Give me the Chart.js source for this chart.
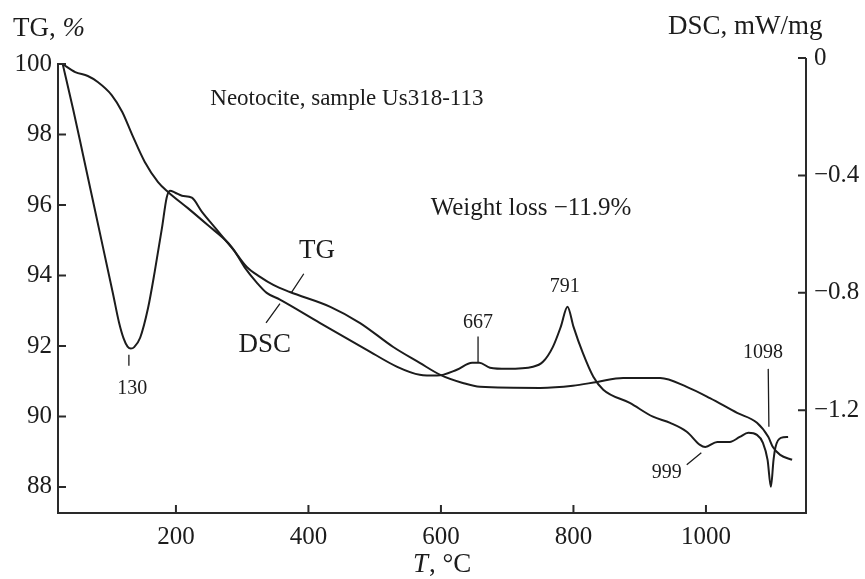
<!DOCTYPE html>
<html>
<head>
<meta charset="utf-8">
<script src="https://cdn.jsdelivr.net/npm/chart.js@4.4.0/dist/chart.umd.min.js"></script>
<style>
  html, body { margin: 0; background: #fff; }
  canvas { display: block; }
</style>
</head>
<body>
<canvas id="chart" width="865" height="579"></canvas>
<script>
// TG curve (left axis, %)
const tgTemp = [29, 48, 67, 82, 103, 119, 134, 153, 173, 188, 218, 248, 279, 307, 327, 347, 372, 433, 478, 528,
  568, 599, 633, 659, 750, 799, 836, 875, 931, 971, 1006, 1047, 1077, 1094, 1101, 1112, 1130];
const tgValue = [100, 99.77, 99.66, 99.49, 99.12, 98.64, 97.99, 97.22, 96.65, 96.37, 95.91, 95.43, 94.92, 94.24, 93.96, 93.73, 93.53, 93.11, 92.65, 91.97,
  91.52, 91.18, 90.95, 90.84, 90.81, 90.87, 90.98, 91.09, 91.09, 90.84, 90.52, 90.10, 89.82, 89.42, 89.13, 88.91, 88.77];

// DSC curve (right axis, mW/mg)
const dscTemp = [29, 45, 60, 75, 90, 105, 114, 121, 127, 132, 137, 146, 158, 168, 179, 186, 191, 199, 209, 224, 239,
  259, 274, 289, 304, 322, 337, 357, 417, 488, 534, 568, 594, 624, 647, 658, 674, 700, 739, 754, 769,
  781, 791, 800, 814, 830, 845, 885, 920, 946, 971, 991, 999, 1017, 1036, 1051, 1064, 1077, 1086, 1093, 1098,
  1102, 1105, 1113, 1124];
const dscValue = [-0.02, -0.176, -0.332, -0.489, -0.646, -0.803, -0.90, -0.955, -0.983, -0.99, -0.985, -0.953, -0.851, -0.728, -0.578, -0.476, -0.452, -0.459, -0.469, -0.476, -0.523,
  -0.578, -0.619, -0.660, -0.714, -0.765, -0.80, -0.823, -0.902, -0.994, -1.052, -1.079, -1.082, -1.062, -1.038, -1.038, -1.055, -1.059, -1.052, -1.035, -0.984,
  -0.915, -0.847, -0.915, -1.004, -1.086, -1.130, -1.175, -1.222, -1.243, -1.273, -1.318, -1.325, -1.308, -1.308, -1.291, -1.277, -1.284, -1.311, -1.369, -1.461,
  -1.369, -1.325, -1.294, -1.291];

const tempTicks = [200, 400, 600, 800, 1000];
const tgTicks = [88, 90, 92, 94, 96, 98, 100];
const dscTicks = [0, -0.4, -0.8, -1.2];

// text notes, placed in (°C, mW/mg) coordinates
const notes = [
  { text: 'Neotocite, sample Us318-113', x: 458, y: -0.141, size: 23 },
  { text: 'Weight loss \u221211.9%', x: 736, y: -0.513, size: 25 },
  { text: 'TG', x: 413, y: -0.656, size: 27 },
  { text: 'DSC', x: 334, y: -0.977, size: 27 },
  { text: '130', x: 134, y: -1.127, size: 20 },
  { text: '667', x: 656, y: -0.902, size: 20 },
  { text: '791', x: 787, y: -0.779, size: 20 },
  { text: '999', x: 941, y: -1.413, size: 20 },
  { text: '1098', x: 1086, y: -1.004, size: 20 }
];
const leaders = [
  [393, -0.735, 374, -0.80],
  [336, -0.902, 357, -0.837],
  [129, -1.011, 129, -1.048],
  [656, -0.949, 656, -1.038],
  [971, -1.386, 993, -1.345],
  [1094, -1.059, 1095, -1.256]
];

const SERIF = '"Liberation Serif", "DejaVu Serif", serif';
const INK = '#1c1c1c';

const framePlugin = {
  id: 'frame',
  afterDraw(chart) {
    const { ctx, chartArea: a } = chart;
    const x = chart.scales.x, yl = chart.scales.yTG, yr = chart.scales.yDSC;
    ctx.save();
    ctx.strokeStyle = '#2a2a2a';
    ctx.lineWidth = 2;
    ctx.beginPath();
    ctx.moveTo(a.left, yl.getPixelForValue(100) - 1);
    ctx.lineTo(a.left, a.bottom);
    ctx.lineTo(a.right, a.bottom);
    ctx.lineTo(a.right, a.top);
    ctx.stroke();

    // inward ticks
    ctx.beginPath();
    tempTicks.forEach(v => {
      const px = x.getPixelForValue(v);
      ctx.moveTo(px, a.bottom); ctx.lineTo(px, a.bottom - 8);
    });
    tgTicks.forEach(v => {
      const py = yl.getPixelForValue(v);
      ctx.moveTo(a.left, py); ctx.lineTo(a.left + 8, py);
    });
    dscTicks.forEach(v => {
      const py = yr.getPixelForValue(v);
      ctx.moveTo(a.right, py); ctx.lineTo(a.right - 8, py);
    });
    ctx.stroke();

    // leader lines
    ctx.lineWidth = 1.3;
    ctx.strokeStyle = INK;
    ctx.beginPath();
    leaders.forEach(l => {
      ctx.moveTo(x.getPixelForValue(l[0]), yr.getPixelForValue(l[1]));
      ctx.lineTo(x.getPixelForValue(l[2]), yr.getPixelForValue(l[3]));
    });
    ctx.stroke();

    ctx.fillStyle = INK;
    ctx.textAlign = 'center';
    ctx.textBaseline = 'middle';
    notes.forEach(n => {
      ctx.font = n.size + 'px ' + SERIF;
      ctx.fillText(n.text, x.getPixelForValue(n.x), yr.getPixelForValue(n.y));
    });

    // axis titles
    ctx.textBaseline = 'alphabetic';
    ctx.textAlign = 'left';
    ctx.font = '27px ' + SERIF;
    ctx.fillText('TG, ', 13, 36);
    const w1 = ctx.measureText('TG, ').width;
    ctx.font = 'italic 27px ' + SERIF;
    ctx.fillText('%', 13 + w1, 36);

    ctx.font = '27px ' + SERIF;
    ctx.fillText('DSC, mW/mg', 668, 34);

    ctx.font = 'italic 27px ' + SERIF;
    ctx.fillText('T', 413, 572);
    const w2 = ctx.measureText('T').width;
    ctx.font = '27px ' + SERIF;
    ctx.fillText(', \u00b0C', 413 + w2 + 1, 572);
    ctx.restore();
  }
};

const tickFont = { family: SERIF, size: 25 };

new Chart(document.getElementById('chart'), {
  type: 'line',
  data: {
    datasets: [
      {
        label: 'TG',
        data: tgTemp.map((t, i) => ({ x: t, y: tgValue[i] })),
        yAxisID: 'yTG',
        borderColor: INK,
        borderWidth: 2,
        pointRadius: 0,
        cubicInterpolationMode: 'monotone'
      },
      {
        label: 'DSC',
        data: dscTemp.map((t, i) => ({ x: t, y: dscValue[i] })),
        yAxisID: 'yDSC',
        borderColor: INK,
        borderWidth: 2,
        pointRadius: 0,
        cubicInterpolationMode: 'monotone'
      }
    ]
  },
  options: {
    responsive: false,
    animation: false,
    layout: { padding: { top: 58, left: 0, right: 0, bottom: 0 } },
    plugins: { legend: { display: false }, tooltip: { enabled: false } },
    scales: {
      x: {
        type: 'linear',
        min: 22,
        max: 1151,
        afterBuildTicks: s => { s.ticks = tempTicks.map(v => ({ value: v })); },
        afterFit: s => { s.height = 66; },
        grid: { display: false, drawTicks: false },
        border: { display: false },
        ticks: { font: tickFont, color: INK, padding: 9, maxRotation: 0, callback: v => String(v) }
      },
      yTG: {
        position: 'left',
        min: 87.26,
        max: 100.17,
        afterBuildTicks: s => { s.ticks = tgTicks.map(v => ({ value: v })); },
        afterFit: s => { s.width = 58; },
        grid: { display: false, drawTicks: false },
        border: { display: false },
        ticks: { font: tickFont, color: INK, padding: 6 }
      },
      yDSC: {
        position: 'right',
        min: -1.55,
        max: 0,
        afterBuildTicks: s => { s.ticks = dscTicks.map(v => ({ value: v })); },
        afterFit: s => { s.width = 59; },
        grid: { display: false, drawTicks: false },
        border: { display: false },
        ticks: {
          font: tickFont, color: INK, padding: 8,
          callback: v => v === 0 ? '0' : '\u2212' + Math.abs(v).toFixed(1)
        }
      }
    }
  },
  plugins: [framePlugin]
});
</script>
</body>
</html>
